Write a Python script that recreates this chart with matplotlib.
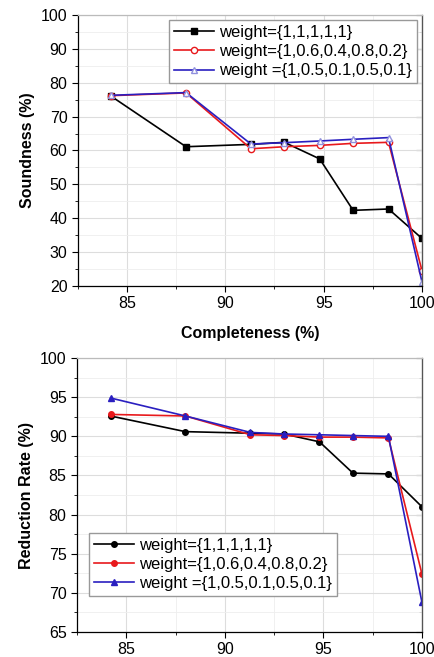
import matplotlib
matplotlib.use('Agg')
import matplotlib.pyplot as plt
from matplotlib.ticker import MultipleLocator

plt.rcParams['font.family'] = ['Liberation Sans', 'DejaVu Sans']

completeness = [84.2, 88.0, 91.3, 93.0, 94.8, 96.5, 98.3, 100.0]
labels = ['weight={1,1,1,1,1}', 'weight={1,0.6,0.4,0.8,0.2}', 'weight ={1,0.5,0.1,0.5,0.1}']
colors = ['black', '#e8191c', '#2a1fc0']

# soundness (%)
sound_w1 = [76.0, 61.1, 61.8, 62.4, 57.5, 42.3, 42.7, 34.0]
sound_w2 = [76.2, 77.0, 60.5, 61.1, 61.5, 62.1, 62.4, 24.5]
sound_w3 = [76.3, 77.1, 61.9, 62.3, 62.8, 63.3, 63.8, 21.2]

# reduction rate (%)
red_w1 = [92.6, 90.6, 90.4, 90.3, 89.3, 85.3, 85.2, 81.0]
red_w2 = [92.8, 92.6, 90.2, 90.1, 89.9, 89.9, 89.8, 72.4]
red_w3 = [94.9, 92.6, 90.5, 90.3, 90.2, 90.1, 90.0, 68.8]

fig = plt.figure(figsize=(4.35, 6.57), dpi=100)
ax1 = fig.add_axes([0.179, 0.565, 0.791, 0.412])
ax2 = fig.add_axes([0.177, 0.038, 0.793, 0.417])


def style(ax, ylo, yhi, ymaj, ymin):
    ax.set_xlim(82.5, 100)
    ax.set_ylim(ylo, yhi)
    ax.xaxis.set_major_locator(MultipleLocator(5))
    ax.xaxis.set_minor_locator(MultipleLocator(2.5))
    ax.yaxis.set_major_locator(MultipleLocator(ymaj))
    ax.yaxis.set_minor_locator(MultipleLocator(ymin))
    ax.grid(True, which='major', color='#dddddd', lw=0.8)
    ax.grid(True, which='minor', color='#eeeeee', lw=0.6)
    ax.set_axisbelow(True)
    ax.tick_params(which='both', labelsize=11.5, direction='out')
    ax.tick_params(which='major', length=4)
    ax.tick_params(which='minor', length=2.5)
    for sp in ax.spines.values():
        sp.set_linewidth(0.9)
    ax.spines['right'].set_color('#555555')
    ax.spines['top'].set_color('#bbbbbb')
    # inward ticks on the right side
    sec = ax.secondary_yaxis('right')
    sec.yaxis.set_major_locator(MultipleLocator(ymaj))
    sec.yaxis.set_minor_locator(MultipleLocator(ymin))
    sec.tick_params(which='both', direction='in', labelright=False, color='#555555')
    sec.tick_params(which='major', length=4)
    sec.tick_params(which='minor', length=2.5)
    sec.spines['right'].set_color('#555555')


leg_kw = dict(fontsize=12, frameon=True, fancybox=False, edgecolor='#999999',
              borderpad=0.3, labelspacing=0.25, handlelength=2.4, handletextpad=0.3,
              framealpha=1)

# top: soundness
ax1.plot(completeness, sound_w1, color=colors[0], marker='s', ms=4, lw=1.2, label=labels[0])
ax1.plot(completeness, sound_w2, color=colors[1], marker='o', ms=4.5, mfc='white', lw=1.2, label=labels[1])
ax1.plot(completeness, sound_w3, color=colors[2], marker='^', ms=5, mfc='white', mec='#9090dd', lw=1.2, label=labels[2])
style(ax1, 20, 100, 10, 5)
ax1.set_ylabel('Soundness (%)', fontsize=11.5, fontweight='bold')
ax1.set_xlabel('Completeness (%)', fontsize=11.5, fontweight='bold', labelpad=11)
ax1.legend(loc='upper right', borderaxespad=0.3, **leg_kw)

# bottom: reduction rate
ax2.plot(completeness, red_w1, color=colors[0], marker='o', ms=4, lw=1.2, label=labels[0])
ax2.plot(completeness, red_w2, color=colors[1], marker='o', ms=4, lw=1.2, label=labels[1])
ax2.plot(completeness, red_w3, color=colors[2], marker='^', ms=5, lw=1.2, label=labels[2])
style(ax2, 65, 100, 5, 2.5)
ax2.set_ylabel('Reduction Rate (%)', fontsize=11.5, fontweight='bold')
ax2.legend(loc='lower left', bbox_to_anchor=(0.01, 0.1), **leg_kw)

fig.savefig('out.png', dpi=100)
